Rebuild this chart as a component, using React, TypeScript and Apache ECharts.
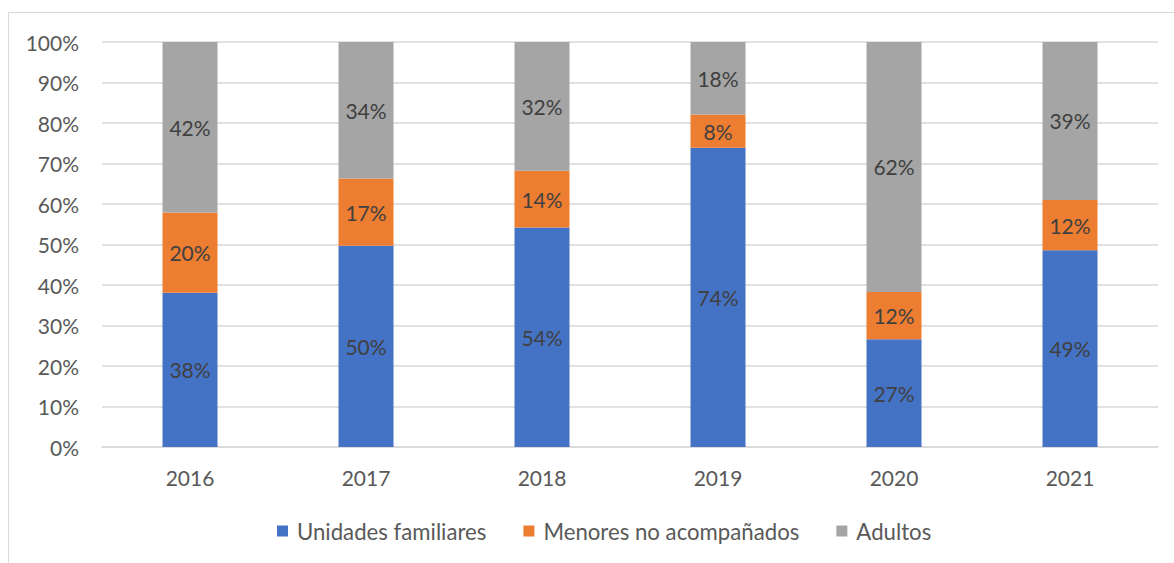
import React, { useEffect, useRef } from "react";
import * as echarts from "echarts";

const years = ["2016", "2017", "2018", "2019", "2020", "2021"];
const unidadesFamiliares = [38.1, 49.7, 54.2, 73.9, 26.6, 48.6];
const menoresNoAcompanados = [19.8, 16.6, 14.0, 8.2, 11.7, 12.4];
const adultos = [42.1, 33.7, 31.8, 17.9, 61.7, 39.0];
const yTicks = [0, 10, 20, 30, 40, 50, 60, 70, 80, 90, 100];

const FONT = "Lato";
const FS = 21;

export default function App() {
  const ref = useRef<HTMLDivElement>(null);
  useEffect(() => {
    if (!ref.current) return;
    const chart = echarts.init(ref.current, undefined, { renderer: "svg" });
    const label = {
      show: true,
      position: "inside",
      color: "#404040",
      fontFamily: FONT,
      fontSize: FS,
      formatter: (p: any) => Math.round(p.value) + "%",
    };
    const mk = (name: string, data: number[], color: string) => ({
      name,
      type: "bar",
      stack: "total",
      data,
      barWidth: 55,
      itemStyle: { color },
      label,
    });
    chart.setOption({
      animation: false,
      backgroundColor: "#ffffff",
      textStyle: { fontFamily: FONT },
      graphic: [
        {
          type: "rect",
          shape: { x: 8.5, y: 12.5, width: 1200, height: 600 },
          style: { fill: "none", stroke: "#D9D9D9", lineWidth: 1 },
          silent: true,
          z: -1,
        },
      ],
      grid: { left: 102, right: 16, top: 42, bottom: 116, containLabel: false },
      legend: {
        bottom: 16,
        left: 272,
        itemWidth: 11,
        itemHeight: 11,
        itemGap: 37,
        icon: "rect",
        textStyle: { color: "#595959", fontSize: 22.2, fontFamily: FONT, padding: [0, 0, 0, 4] },
        data: ["Unidades familiares", "Menores no acompañados", "Adultos"],
      },
      xAxis: {
        type: "category",
        data: years,
        axisLine: { show: true, lineStyle: { color: "#D9D9D9", width: 1.5 } },
        axisTick: { show: false },
        axisLabel: { color: "#595959", fontSize: FS, fontFamily: FONT, margin: 20 },
      },
      yAxis: {
        type: "value",
        min: yTicks[0],
        max: yTicks[yTicks.length - 1],
        interval: 10,
        axisLine: { show: false },
        axisTick: { show: false },
        splitLine: { lineStyle: { color: "#D9D9D9", width: 1.5 } },
        axisLabel: {
          color: "#595959",
          fontSize: FS,
          fontFamily: FONT,
          margin: 23,
          formatter: (v: number) => v + "%",
        },
      },
      series: [
        mk("Unidades familiares", unidadesFamiliares, "#4472C4"),
        mk("Menores no acompañados", menoresNoAcompanados, "#ED7D31"),
        mk("Adultos", adultos, "#A5A5A5"),
      ],
    });
    return () => chart.dispose();
  }, []);
  return (
    <div
      ref={ref}
      style={{ position: "fixed", left: 0, top: 0, width: 1174, height: 563, background: "#fff" }}
    />
  );
}
